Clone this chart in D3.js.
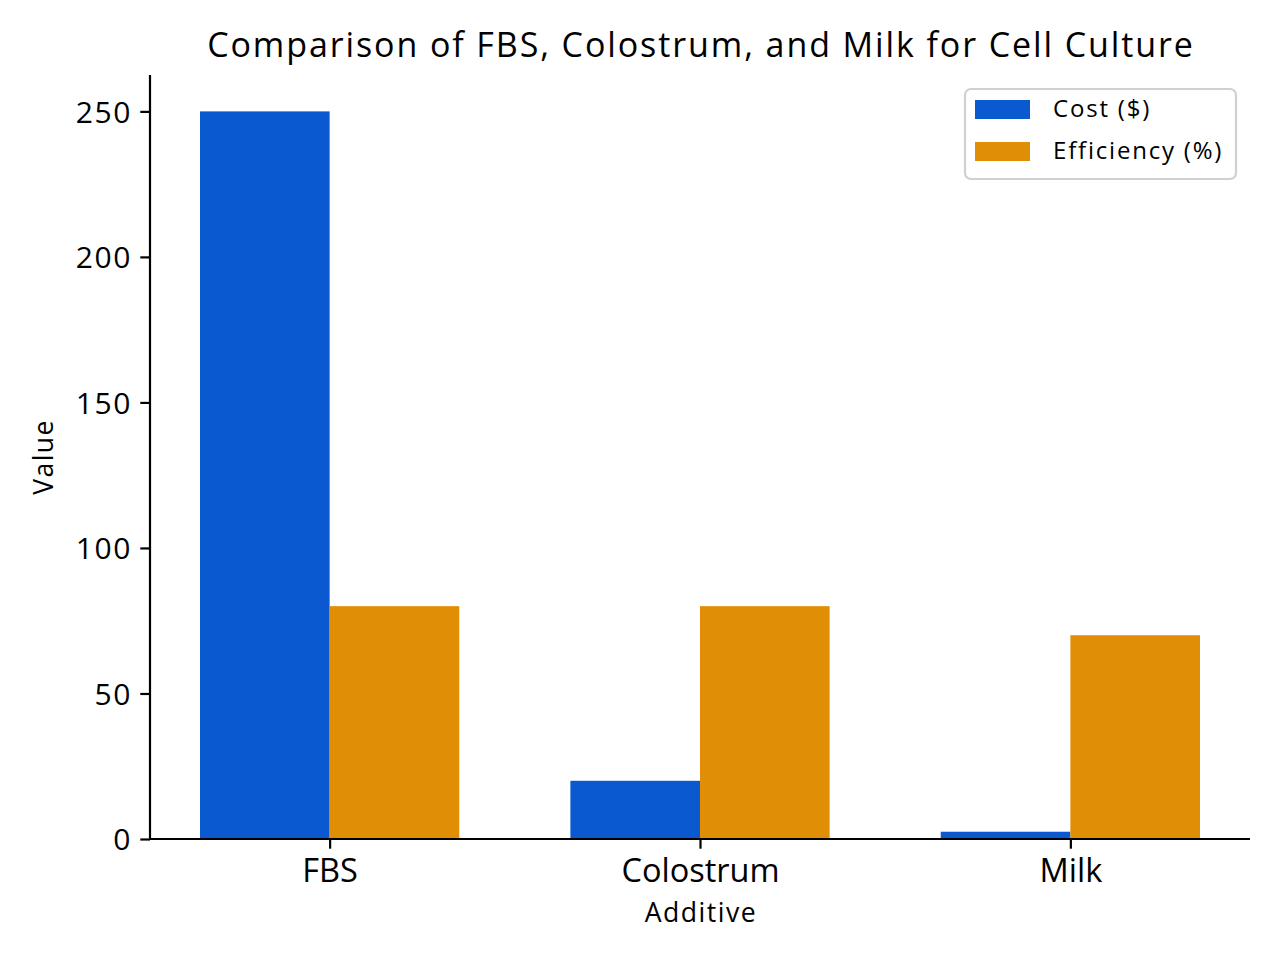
<!DOCTYPE html>
<html><head><meta charset="utf-8">
<script src="https://cdn.jsdelivr.net/npm/d3@7"></script>
<style>html,body{margin:0;padding:0;background:#fff;} svg{display:block;font-family:"Open Sans",sans-serif;}</style>
</head><body>
<svg id="c" width="1280" height="960"></svg>
<script>
const categories = ["FBS", "Colostrum", "Milk"];
const seriesNames = ["Cost ($)", "Efficiency (%)"];
const costValues = [250, 20, 2.5];
const efficiencyValues = [80, 80, 70];
const yTicks = [0, 50, 100, 150, 200, 250];
const colors = ["#0b59d0", "#df8e05"];

const FONT = '"Open Sans", sans-serif';
const svg = d3.select("#c");
const L = 150, R = 1250, T = 75, B = 839;
const barW = 0.35;
const x = d3.scaleLinear().domain([-0.485, 2.485]).range([L, R]);
const y = d3.scaleLinear().domain([0, 262.5]).range([B, T]);

const series = [costValues, efficiencyValues];
series.forEach((vals, si) => {
  svg.append("g").selectAll("rect").data(vals).join("rect")
    .attr("x", (d, i) => x(i + (si === 0 ? -barW : 0)))
    .attr("width", x(barW) - x(0))
    .attr("y", d => y(d))
    .attr("height", d => y(0) - y(d))
    .attr("fill", colors[si]);
});

const yAxis = svg.append("g").attr("transform", `translate(${L},0)`)
  .call(d3.axisLeft(y).tickValues(yTicks).tickSize(9.7).tickPadding(8.5).tickFormat(d3.format("d")));
const xAxis = svg.append("g").attr("transform", `translate(0,${B})`)
  .call(d3.axisBottom(x).tickValues([0,1,2]).tickSize(9.7).tickPadding(8).tickFormat(i => categories[i]));
[yAxis, xAxis].forEach(a => {
  a.selectAll("path.domain").attr("stroke", "#000").attr("stroke-width", 2.2);
  a.selectAll(".tick line").attr("stroke", "#000").attr("stroke-width", 2.2);
  a.selectAll(".tick text").attr("fill", "#000").attr("font-family", FONT);
});
yAxis.selectAll(".tick text").attr("font-size", 30).attr("letter-spacing", 1.5).attr("dy", "0.357em");
xAxis.selectAll(".tick text").attr("font-size", 32.5).attr("y", 43).attr("dy", null);
yAxis.select("path.domain").attr("d", `M0,${B}V${T}`);
xAxis.select("path.domain").attr("d", `M${L},0H${R}`);

svg.append("text").attr("x", (L + R) / 2 + 1).attr("y", 57).attr("text-anchor", "middle")
  .attr("font-size", 34).attr("letter-spacing", 1.9).text("Comparison of FBS, Colostrum, and Milk for Cell Culture");
svg.append("text").attr("x", (L + R) / 2 + 1).attr("y", 922).attr("text-anchor", "middle")
  .attr("font-size", 26.6).attr("letter-spacing", 1.5).text("Additive");
svg.append("text").attr("transform", `translate(53,${(T + B) / 2}) rotate(-90)`).attr("text-anchor", "middle")
  .attr("font-size", 26.6).attr("letter-spacing", 1.4).text("Value");

const lg = svg.append("g");
lg.append("rect").attr("x", 965).attr("y", 89).attr("width", 271).attr("height", 90).attr("rx", 6)
  .attr("fill", "#fff").attr("stroke", "#d0d0d0").attr("stroke-width", 2.2);
seriesNames.forEach((n, i) => {
  lg.append("rect").attr("x", 975).attr("y", 100 + i * 42).attr("width", 55).attr("height", 19).attr("fill", colors[i]);
  lg.append("text").attr("x", 1053).attr("y", 117 + i * 42).attr("font-size", 24).attr("letter-spacing", 1.8).text(n);
});
</script>
</body></html>
